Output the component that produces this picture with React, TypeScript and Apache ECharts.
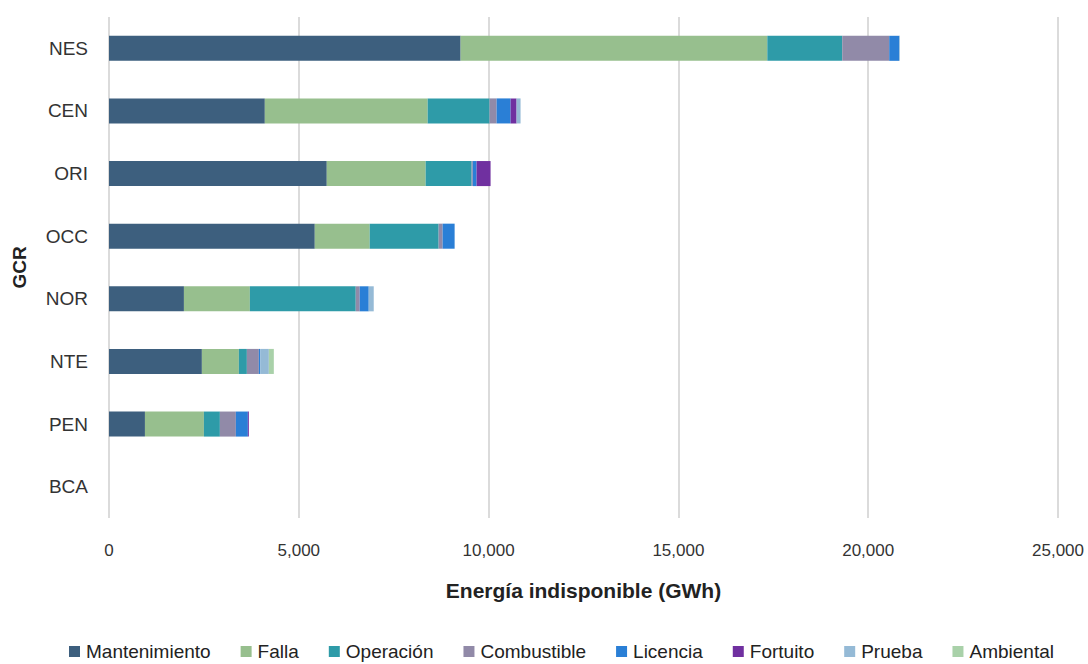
import React, { useEffect, useRef } from "react";
import * as echarts from "echarts";

const categories = ["NES", "CEN", "ORI", "OCC", "NOR", "NTE", "PEN", "BCA"];
const seriesNames = ["Mantenimiento", "Falla", "Operación", "Combustible", "Licencia", "Fortuito", "Prueba", "Ambiental"];
const colors = ["#3d5f7e", "#97bf8e", "#2e9ba8", "#918aa8", "#2a7fd6", "#7030a0", "#95bad6", "#a9d1a9"];

const mantenimiento = [9263, 4105, 5737, 5421, 1974, 2447, 947, 0];
const falla = [8079, 4290, 2605, 1447, 1737, 974, 1553, 0];
const operacion = [1974, 1631, 1211, 1816, 2789, 211, 421, 0];
const combustible = [1237, 185, 30, 105, 105, 315, 421, 0];
const licencia = [263, 368, 100, 316, 237, 40, 316, 0];
const fortuito = [0, 158, 369, 0, 0, 0, 26, 0];
const prueba = [20, 105, 0, 0, 132, 224, 0, 0];
const ambiental = [0, 0, 0, 0, 0, 131, 0, 0];

const values = [mantenimiento, falla, operacion, combustible, licencia, fortuito, prueba, ambiental];
const xTicks = { min: 0, max: 25000, interval: 5000 };

const FONT = "'Liberation Sans Narrow', 'Arial Narrow', 'Liberation Sans', Arial, sans-serif";

export default function App() {
  const ref = useRef<HTMLDivElement>(null);
  useEffect(() => {
    document.body.style.margin = "0";
    const chart = echarts.init(ref.current!, null, { renderer: "svg" });
    chart.setOption({
      animation: false,
      textStyle: { fontFamily: FONT },
      grid: { left: 109, right: 30, top: 17, bottom: 146, containLabel: false },
      legend: {
        bottom: -2,
        left: 64,
        itemWidth: 11,
        itemHeight: 11,
        itemGap: 30,
        icon: "rect",
        textStyle: { fontFamily: FONT, fontSize: 19, color: "#222", padding: [0, 0, 0, 1] },
        data: seriesNames,
      },
      xAxis: {
        type: "value",
        min: xTicks.min,
        max: xTicks.max,
        interval: xTicks.interval,
        name: "Energía indisponible (GWh)",
        nameLocation: "middle",
        nameGap: 62,
        nameTextStyle: { fontFamily: FONT, fontSize: 21, fontWeight: "bold", color: "#222" },
        axisLine: { show: false },
        axisTick: { show: false },
        axisLabel: {
          margin: 24,
          fontSize: 17,
          color: "#333",
          formatter: (v: number) => v.toLocaleString("en-US"),
        },
        splitLine: { show: true, lineStyle: { color: "#cfcfcf", width: 1.5 } },
      },
      yAxis: {
        type: "category",
        inverse: true,
        data: categories,
        name: "GCR",
        nameLocation: "middle",
        nameGap: 80,
        nameTextStyle: { fontFamily: FONT, fontSize: 19, fontWeight: "bold", color: "#222" },
        axisLine: { show: false },
        axisTick: { show: false },
        axisLabel: { margin: 21, fontSize: 19, color: "#333" },
        splitLine: { show: false },
      },
      series: seriesNames.map((name, i) => ({
        name,
        type: "bar",
        stack: "total",
        barWidth: "40%",
        itemStyle: { color: colors[i] },
        emphasis: { disabled: true },
        data: values[i],
      })),
    });
    return () => chart.dispose();
  }, []);
  return <div ref={ref} style={{ width: 1088, height: 664 }} />;
}
